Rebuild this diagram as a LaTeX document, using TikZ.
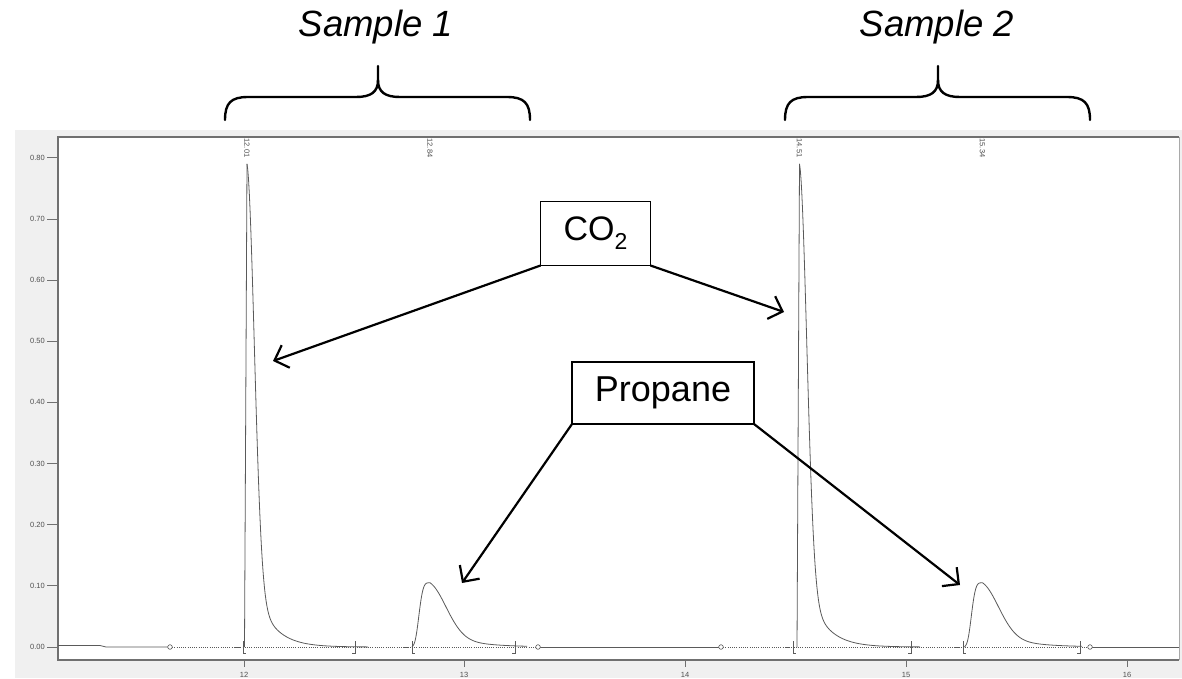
\documentclass[tikz,border=0pt]{standalone}
\usepackage{fontspec}
\setmainfont{Liberation Sans}
\usetikzlibrary{arrows.meta}
\definecolor{panel}{HTML}{F0F0F0}
\definecolor{sigc}{HTML}{5A5A5A}
\definecolor{axc}{HTML}{707070}
\definecolor{lblc}{HTML}{505050}
\tikzset{
  sig/.style={draw=sigc, line width=0.8pt},
  basedot/.style={draw=sigc, line width=0.6pt, dash pattern=on 1pt off 1.2pt},
  circ/.style={draw=sigc, fill=white, line width=0.6pt},
  ticklbl/.style={text=lblc, font=\fontsize{7.5}{8}\selectfont, inner sep=0pt},
  pklbl/.style={text=lblc, font=\fontsize{7.5}{8}\selectfont, inner sep=0pt, rotate=-90},
  tk/.style={draw=axc, line width=0.8pt},
  annbox/.style={draw=black, line width=1.6pt, fill=white, inner sep=0pt, outer sep=0pt},
  anntitle/.style={font=\fontsize{36.5}{42}\selectfont\itshape, inner sep=0pt},
  annarrow/.style={draw=black, line width=2.2pt, -{Straight Barb[length=12pt,width=24pt,line width=2.2pt]}},
  bracec/.style={draw=black, line width=2.4pt, line cap=round}
}
\begin{document}
\begin{tikzpicture}[x=1pt,y=-1pt]
\useasboundingbox (0,0) rectangle (1182,678);
\fill[white] (0,0) rectangle (1182,678);
% panel and plot frame
\fill[panel] (15,130) rectangle (1182,678);
\fill[white] (58,137) rectangle (1179,660);
\draw[draw=axc, line width=1.3pt] (1179,137) -- (58,137) -- (58,660) -- (1179,660);
\draw[draw=axc!60, line width=0.8pt] (1179,137) -- (1179,660);
% y ticks
\foreach \v/\t in {0/0.00,0.1/0.10,0.2/0.20,0.3/0.30,0.4/0.40,0.5/0.50,0.6/0.60,0.7/0.70,0.8/0.80}{
  \pgfmathsetmacro{\yy}{647-611.5*\v}
  \draw[tk] (47,\yy) -- (58,\yy);
  \node[ticklbl, anchor=east] (y\t) at (45,\yy) {\t};
}
% x ticks
\foreach \xx/\t in {244/12,464/13,685/14,906/15,1127/16}{
  \draw[tk] (\xx,660) -- (\xx,667);
  \node[ticklbl] (x\t) at (\xx,674.5) {\t};
}
% peak labels
\node[pklbl] (l1) at (247,148) {12.01};
\node[pklbl] (l2) at (430,148) {12.84};
\node[pklbl] (l3) at (799.5,148) {14.51};
\node[pklbl] (l4) at (982.5,148) {15.34};
% baseline
\draw[sig] (58,645.5) -- (100,645.5) -- (106,647) -- (170,647);
\draw[basedot] (170,647) -- (538,647);
\draw[sig] (538,647) -- (721,647);
\draw[basedot] (721,647) -- (1090,647);
\draw[sig] (1090,647) -- (1179,647);
% peak 1
\draw[sig] (244.5,647) -- (247,163.9);
\draw[sig] plot[domain=247:368,samples=160] (\x,{647-611.5*(0.64*exp(-((\x-247)/10.5)^2)+0.15*exp(-(\x-247)/18))});
% peak 2
\draw[sig] (412,647) -- plot[domain=413:430,samples=40] (\x,{647-64.2*exp(-((430-\x)/12.1)^4)});
\draw[sig] plot[domain=430:527,samples=120] (\x,{647-64.2*(0.7*exp(-((\x-430)/24)^2)+0.3*exp(-(\x-430)/30))});
% peak 3
\draw[sig] (797,647) -- (799.5,163.9);
\draw[sig] plot[domain=799.5:920,samples=160] (\x,{647-611.5*(0.64*exp(-((\x-799.5)/10.5)^2)+0.15*exp(-(\x-799.5)/18))});
% peak 4
\draw[sig] (964.5,647) -- plot[domain=965.5:982.5,samples=40] (\x,{647-64.2*exp(-((982.5-\x)/12.1)^4)});
\draw[sig] plot[domain=982.5:1082,samples=120] (\x,{647-64.2*(0.7*exp(-((\x-982.5)/24)^2)+0.3*exp(-(\x-982.5)/30))});
% peak start / end markers
\foreach \xx in {243,412,793,963}{
  \draw[sig, line width=0.7pt] (\xx,641) -- (\xx,653) -- (\xx+3,653);
  \draw[sig, line width=0.6pt] (\xx-8,647) -- (\xx-3,647);
}
\foreach \xx in {355,515,911,1080}{
  \draw[sig, line width=0.7pt] (\xx,641) -- (\xx,653) -- (\xx-3,653);
}
\foreach \xx in {170,538,721,1090}{
  \draw[circ] (\xx,647) circle (2.3);
}
% titles and braces
\node[anntitle] (s1) at (376,27) {Sample 1};
\node[anntitle] (s2) at (937,27) {Sample 2};
\draw[bracec] (225,120) .. controls (225,103) and (231,97) .. (248,97) -- (356,97)
  .. controls (371,97) and (378,92) .. (378,80) -- (378,66);
\draw[bracec] (378,80) .. controls (378,92) and (385,97) .. (400,97) -- (507,97)
  .. controls (524,97) and (530,103) .. (530,120);
\draw[bracec] (785,120) .. controls (785,103) and (791,97) .. (808,97) -- (916,97)
  .. controls (931,97) and (938,92) .. (938,80) -- (938,66);
\draw[bracec] (938,80) .. controls (938,92) and (945,97) .. (960,97) -- (1067,97)
  .. controls (1084,97) and (1090,103) .. (1090,120);
% annotation boxes
\node[annbox, minimum width=110pt, minimum height=64pt, font=\fontsize{34}{38}\selectfont] (co2) at (595.5,233.5) {CO\raisebox{-9pt}{\fontsize{23}{26}\selectfont 2}};
\node[annbox, minimum width=182pt, minimum height=62pt, font=\fontsize{36}{40}\selectfont] (prop) at (663,393) {Propane};
\coordinate (t1) at (273,361);
\coordinate (t2) at (784,312);
\coordinate (t3) at (462,583);
\coordinate (t4) at (960,585);
\draw[annarrow] (co2.south west) -- (t1);
\draw[annarrow] (co2.south east) -- (t2);
\draw[annarrow] (prop.south west) -- (t3);
\draw[annarrow] (prop.south east) -- (t4);
\end{tikzpicture}
\end{document}
